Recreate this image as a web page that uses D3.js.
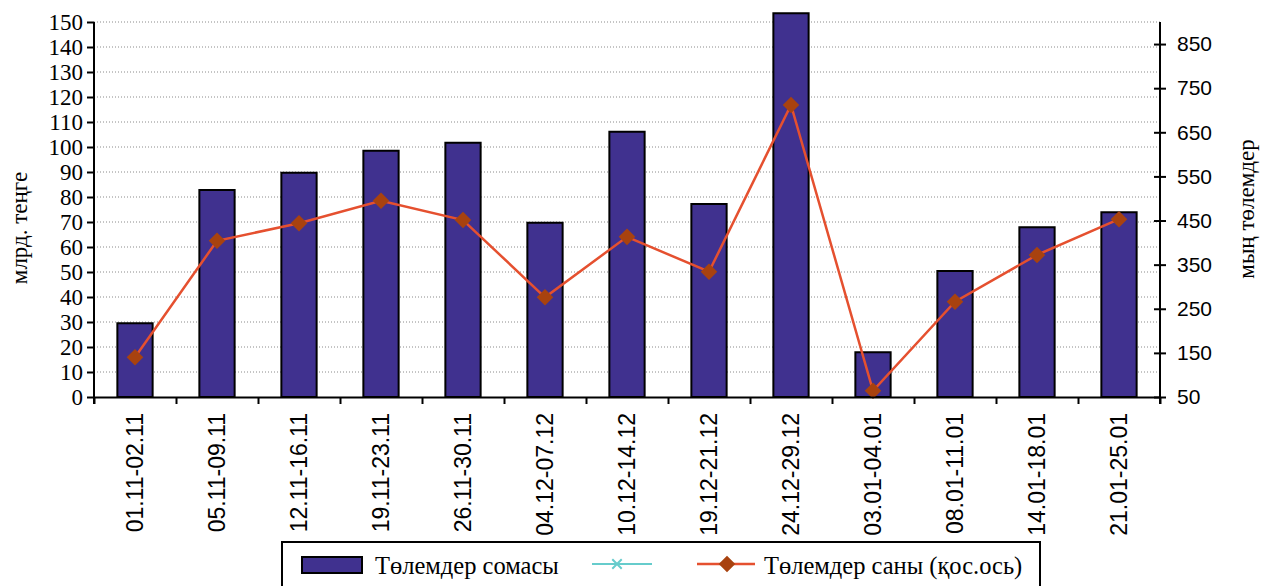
<!DOCTYPE html>
<meta charset="utf-8">
<style>
    body { margin: 0; background: #fff; }
    .grid line { stroke: #8a8a8a; stroke-width: 1px; stroke-dasharray: 1,2; }
    .axis path, .axis line { stroke: #000; stroke-width: 2px; }
</style>
<body>
<svg width="1264" height="586"></svg>
<script src="https://cdn.jsdelivr.net/npm/d3@7"></script>
<script>
    // data
    var periods = ["01.11-02.11", "05.11-09.11", "12.11-16.11", "19.11-23.11", "26.11-30.11",
        "04.12-07.12", "10.12-14.12", "19.12-21.12", "24.12-29.12", "03.01-04.01",
        "08.01-11.01", "14.01-18.01", "21.01-25.01"]
    var paymentSum = [29.5, 82.8, 89.7, 98.5, 101.7, 69.7, 106.1, 77.2, 153.5, 17.9, 50.4, 67.9, 73.9]
    var paymentCount = [140, 404, 444, 495, 451, 276, 413, 334, 712, 64, 266, 372, 453]
    var leftTicks = d3.range(0, 151, 10)
    var rightTicks = d3.range(50, 851, 100)
    var leftTitle = "млрд. теңге"
    var rightTitle = "мың төлемдер"
    var legendNames = ["Төлемдер сомасы", "Төлемдер саны (қос.ось)"]

    var plotL = 94, plotR = 1160, plotT = 22, plotB = 397

    var svg = d3.select("svg")

    var x = d3.scaleBand()
        .domain(periods)
        .range([plotL, plotR])
        .paddingInner(0.57)
        .paddingOuter(0.285)
    var xEdge = d3.scaleLinear().domain([0, periods.length]).range([plotL, plotR])
    var yL = d3.scaleLinear().domain([0, 150]).range([plotB, plotT])
    var yR = d3.scaleLinear().domain([50, 900]).range([plotB, plotT])

    // dotted grid
    svg.append("g").attr("class", "grid")
        .selectAll("line")
        .data(leftTicks.filter(d => d > 0))
        .enter().append("line")
        .attr("x1", plotL).attr("x2", plotR)
        .attr("y1", d => yL(d)).attr("y2", d => yL(d))

    // bars
    svg.append("g").selectAll("rect")
        .data(paymentSum)
        .enter().append("rect")
        .attr("x", (d, i) => x(periods[i]))
        .attr("width", x.bandwidth())
        .attr("y", d => yL(d))
        .attr("height", d => yL(0) - yL(d))
        .attr("fill", "#40318f")
        .attr("stroke", "#000")
        .attr("stroke-width", 2)

    // line + diamonds
    var line = d3.line()
        .x((d, i) => x(periods[i]) + x.bandwidth() / 2)
        .y(d => yR(d))
    svg.append("path")
        .datum(paymentCount)
        .attr("d", line)
        .attr("fill", "none")
        .attr("stroke", "#e5502f")
        .attr("stroke-width", 2.5)

    var diamond = d3.symbol().type(d3.symbolDiamond2).size(175)
    svg.append("g").selectAll("path")
        .data(paymentCount)
        .enter().append("path")
        .attr("d", diamond)
        .attr("transform", (d, i) => "translate(" + (x(periods[i]) + x.bandwidth() / 2) + "," + yR(d) + ")")
        .attr("fill", "#a8420f")

    // x axis: ticks at the band edges, labels at band centres
    svg.append("g").attr("class", "axis")
        .attr("transform", "translate(0," + plotB + ")")
        .call(d3.axisBottom(xEdge).tickValues(d3.range(0, periods.length + 1)).tickFormat("").tickSize(7).tickSizeOuter(0))
    var xl = svg.append("g")
        .attr("transform", "translate(0," + plotB + ")")
        .call(d3.axisBottom(x).tickSize(0))
    xl.select(".domain").remove()
    xl.selectAll("text")
        .attr("font-family", "'Liberation Sans', Arial, sans-serif")
        .attr("font-size", 23)
        .attr("fill", "#000")
        .attr("transform", "rotate(-90)")
        .attr("text-anchor", "end")
        .attr("x", -16)
        .attr("y", 0)
        .attr("dy", "0.36em")

    // left axis
    var la = svg.append("g").attr("class", "axis")
        .attr("transform", "translate(" + plotL + ",0)")
        .call(d3.axisLeft(yL).tickValues(leftTicks).tickSize(7).tickSizeOuter(0))
    la.select(".domain").attr("d", "M0," + plotT + "V" + (plotB + 7))
    la.selectAll("text")
        .attr("font-family", "'Liberation Serif', 'Times New Roman', serif")
        .attr("font-size", 23)
        .attr("fill", "#000")
        .attr("x", -11)

    // right axis, ticks crossing the line
    var ra = svg.append("g").attr("class", "axis")
        .attr("transform", "translate(" + plotR + ",0)")
        .call(d3.axisRight(yR).tickValues(rightTicks).tickSize(6).tickSizeOuter(0))
    ra.select(".domain").attr("d", "M0," + plotT + "V" + (plotB + 7))
    ra.selectAll(".tick line").attr("x1", -6)
    ra.selectAll("text")
        .attr("font-family", "'Liberation Sans', Arial, sans-serif")
        .attr("font-size", 21)
        .attr("fill", "#000")
        .attr("x", 17)

    // axis titles
    svg.append("text")
        .attr("transform", "translate(27,228) rotate(-90)")
        .attr("text-anchor", "middle")
        .attr("font-family", "'Liberation Serif', 'Times New Roman', serif")
        .attr("font-size", 23)
        .text(leftTitle)
    svg.append("text")
        .attr("transform", "translate(1254,209) rotate(-90)")
        .attr("text-anchor", "middle")
        .attr("font-family", "'Liberation Serif', 'Times New Roman', serif")
        .attr("font-size", 23)
        .text(rightTitle)

    // legend
    var lg = svg.append("g")
    lg.append("rect")
        .attr("x", 282).attr("y", 542).attr("width", 758).attr("height", 60)
        .attr("fill", "#fff").attr("stroke", "#000").attr("stroke-width", 2)
    lg.append("rect")
        .attr("x", 302).attr("y", 557).attr("width", 60).attr("height", 16)
        .attr("fill", "#40318f").attr("stroke", "#000").attr("stroke-width", 2)
    lg.append("text")
        .attr("x", 375).attr("y", 574)
        .attr("font-family", "'Liberation Serif', 'Times New Roman', serif")
        .attr("font-size", 24.5)
        .text(legendNames[0])
    lg.append("line")
        .attr("x1", 592).attr("x2", 652).attr("y1", 564).attr("y2", 564)
        .attr("stroke", "#66cccc").attr("stroke-width", 2)
    lg.append("path")
        .attr("d", d3.symbol().type(d3.symbolX).size(60))
        .attr("transform", "translate(617,564)")
        .attr("stroke", "#66cccc").attr("stroke-width", 2).attr("fill", "none")
    lg.append("line")
        .attr("x1", 697).attr("x2", 755).attr("y1", 564).attr("y2", 564)
        .attr("stroke", "#e5502f").attr("stroke-width", 2.5)
    lg.append("path")
        .attr("d", diamond)
        .attr("transform", "translate(727,564)")
        .attr("fill", "#a8420f")
    lg.append("text")
        .attr("x", 764).attr("y", 574)
        .attr("font-family", "'Liberation Serif', 'Times New Roman', serif")
        .attr("font-size", 24.5)
        .text(legendNames[1])
</script>
</body>
